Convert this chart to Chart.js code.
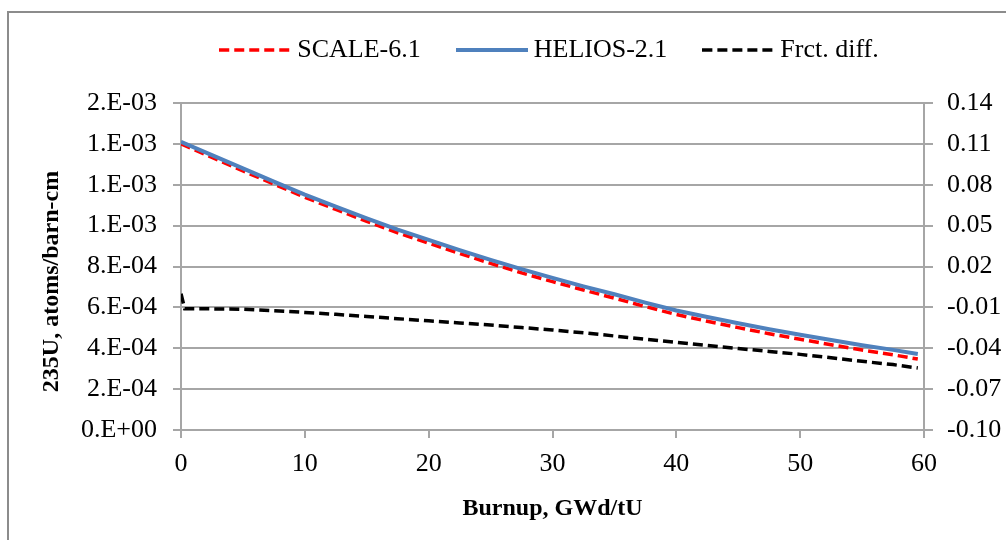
<!DOCTYPE html>
<html><head><meta charset="utf-8">
<script src="https://cdn.jsdelivr.net/npm/chart.js@4.4.0/dist/chart.umd.min.js"></script>
<style>
html,body{margin:0;padding:0;background:#fff;overflow:hidden}
#wrap{position:relative;width:1006px;height:540px;overflow:hidden}
#frame{position:absolute;left:7px;top:11px;width:1100px;height:600px;border-left:2px solid #8c8c8c;border-top:2px solid #8c8c8c}
canvas{position:absolute;left:0;top:0}
</style></head><body>
<div id="wrap"><div id="frame"></div><canvas id="c" width="1006" height="540"></canvas></div>
<script>
const burnup   = [0, 2.5, 5, 7.5, 10, 12.5, 15, 17.5, 20, 22.5, 25, 27.5, 30, 32.5, 35, 37.5, 40, 42.5, 45, 47.5, 50, 52.5, 55, 57.5, 59.5];
const scale61  = [1.400e-3, 1.334e-3, 1.268e-3, 1.203e-3, 1.139e-3, 1.079e-3, 1.021e-3, 0.965e-3, 0.914e-3, 0.864e-3, 0.815e-3, 0.769e-3, 0.726e-3, 0.685e-3, 0.645e-3, 0.604e-3, 0.565e-3, 0.532e-3, 0.501e-3, 0.471e-3, 0.444e-3, 0.417e-3, 0.391e-3, 0.368e-3, 0.347e-3];
const helios21 = [1.410e-3, 1.345e-3, 1.280e-3, 1.215e-3, 1.152e-3, 1.093e-3, 1.035e-3, 0.980e-3, 0.930e-3, 0.880e-3, 0.832e-3, 0.787e-3, 0.744e-3, 0.703e-3, 0.664e-3, 0.623e-3, 0.585e-3, 0.553e-3, 0.522e-3, 0.493e-3, 0.466e-3, 0.440e-3, 0.415e-3, 0.392e-3, 0.372e-3];
const burnupDiff = [0, 0.3, 2.5, 5, 7.5, 10, 12.5, 15, 17.5, 20, 22.5, 25, 27.5, 30, 32.5, 35, 37.5, 40, 42.5, 45, 47.5, 50, 52.5, 55, 57.5, 59.5];
const frctDiff = [0.000, -0.011, -0.0111, -0.0114, -0.0124, -0.0137, -0.0151, -0.0167, -0.0183, -0.0199, -0.0214, -0.0230, -0.0248, -0.0266, -0.0287, -0.0310, -0.0334, -0.0357, -0.0380, -0.0402, -0.0423, -0.0445, -0.0470, -0.0496, -0.0520, -0.0545];
const seriesNames = ['SCALE-6.1', 'HELIOS-2.1', 'Frct. diff.'];
const leftTickLabels  = ['0.E+00','2.E-04','4.E-04','6.E-04','8.E-04','1.E-03','1.E-03','1.E-03','2.E-03'];
const rightTickLabels = ['-0.10','-0.07','-0.04','-0.01','0.02','0.05','0.08','0.11','0.14'];
const xTickLabels = ['0','10','20','30','40','50','60'];
const yTitle = '235U, atoms/barn-cm     ';
const xTitle = 'Burnup, GWd/tU';

function legendLine(color, dash, width) {
  const cv = document.createElement('canvas');
  cv.width = 72; cv.height = 6;
  const g = cv.getContext('2d');
  g.strokeStyle = color; g.lineWidth = width; g.setLineDash(dash);
  g.beginPath(); g.moveTo(0, 3); g.lineTo(72, 3); g.stroke();
  return cv;
}
const pts = (xs, ys) => xs.map((x, i) => ({x: x, y: ys[i]}));
const FONT = "'Liberation Serif', 'Times New Roman', serif";
const gridCol = '#a6a6a6';

// add blank space under the legend row (gap between legend and plot)
const legendGap = {
  id: 'legendGap',
  afterInit(chart) {
    const lg = chart.legend;
    if (!lg) return;
    const fit = lg.fit.bind(lg);
    lg.fit = function () { fit(); this.height += 30; };
  }
};

new Chart(document.getElementById('c'), {
  type: 'line',
  data: {
    datasets: [
      { label: seriesNames[0], data: pts(burnup, scale61), yAxisID: 'y', borderColor: '#ff0000', borderWidth: 3.5, borderDash: [10, 5], pointRadius: 0, pointStyle: legendLine('#ff0000', [10, 5], 3.5), order: 1 },
      { label: seriesNames[1], data: pts(burnup, helios21), yAxisID: 'y', borderColor: '#4f81bd', borderWidth: 4, pointRadius: 0, pointStyle: legendLine('#4f81bd', [], 4), order: 0 },
      { label: seriesNames[2], data: pts(burnupDiff, frctDiff), yAxisID: 'y1', borderColor: '#000000', borderWidth: 3.5, borderDash: [10, 5], pointRadius: 0, pointStyle: legendLine('#000000', [10, 5], 3.5), order: 2 }
    ]
  },
  plugins: [legendGap],
  options: {
    responsive: false,
    animation: false,
    events: [],
    layout: { padding: { left: 28, right: 0, top: -5, bottom: 0 } },
    plugins: {
      tooltip: { enabled: false },
      legend: {
        position: 'top', fullSize: false,
        labels: { usePointStyle: true, pointStyleWidth: 58, color: '#000', padding: 42,
          font: { family: FONT, size: 26 },
          sort: (a, b) => a.datasetIndex - b.datasetIndex }
      }
    },
    scales: {
      x: {
        type: 'linear', min: 0, max: 60,
        ticks: { stepSize: 10, color: '#000', padding: 11, font: { family: FONT, size: 26 },
          callback: (v, i) => xTickLabels[i] },
        grid: { drawOnChartArea: false, drawTicks: true, tickLength: 8, color: gridCol, lineWidth: 2 },
        border: { color: gridCol, width: 2 },
        title: { display: true, text: xTitle, color: '#000', font: { family: FONT, size: 24, weight: 'bold' }, padding: { top: 10, bottom: 17 } },
        afterFit: s => { s.height = 110; }
      },
      y: {
        position: 'left', min: 0, max: 0.0016,
        ticks: { stepSize: 0.0002, color: '#000', padding: 16, font: { family: FONT, size: 26 },
          callback: (v, i) => leftTickLabels[i] },
        grid: { color: gridCol, lineWidth: 2, tickLength: 8 },
        border: { color: gridCol, width: 2 },
        title: { display: true, text: yTitle, color: '#000', font: { family: FONT, size: 24, weight: 'bold' }, padding: { top: 9, bottom: 0 } },
        afterFit: s => { s.width = 153; }
      },
      y1: {
        position: 'right', min: -0.10, max: 0.14,
        ticks: { stepSize: 0.03, color: '#000', padding: 14, font: { family: FONT, size: 26 },
          callback: (v, i) => rightTickLabels[i] },
        grid: { drawOnChartArea: false, tickLength: 9, color: gridCol, lineWidth: 2 },
        border: { color: gridCol, width: 2 },
        afterFit: s => { s.width = 82; }
      }
    }
  }
});
</script>
</body></html>
